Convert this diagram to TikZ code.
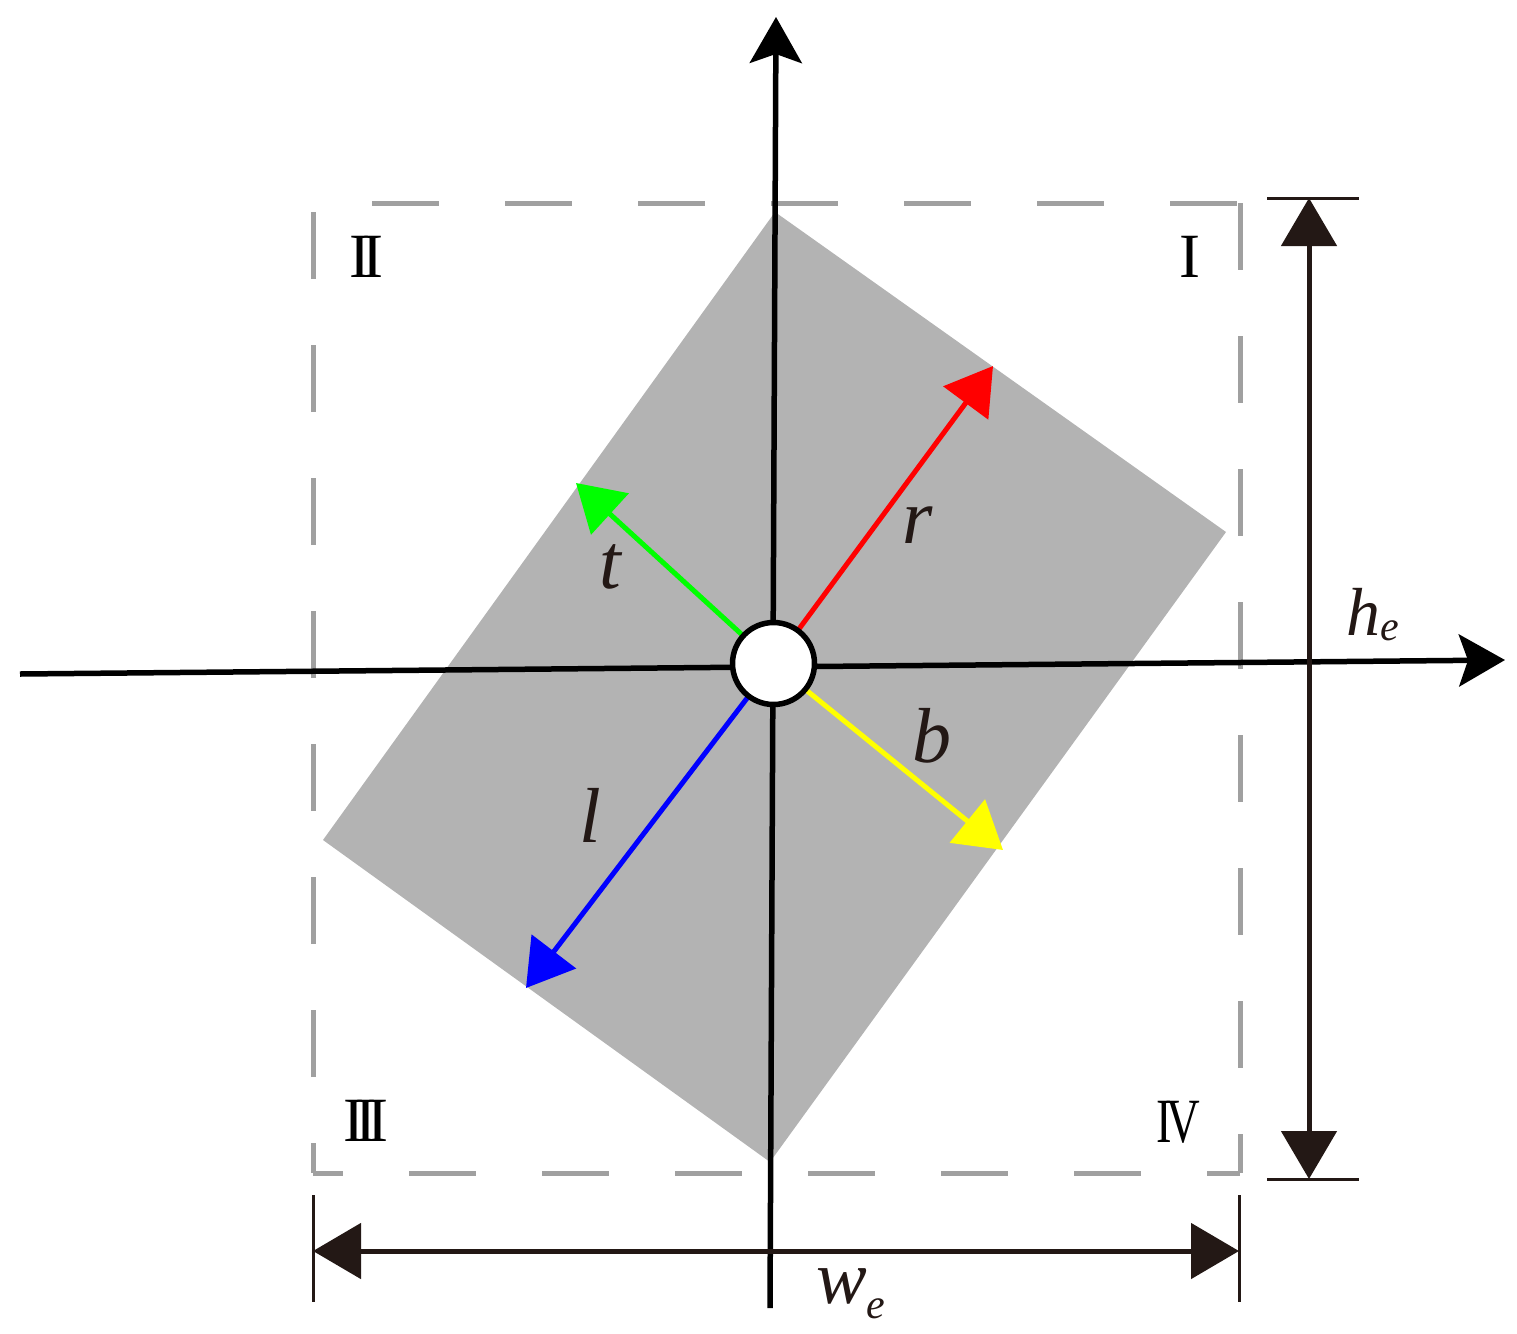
\documentclass[tikz,border=0pt]{standalone}
\usepackage{fontspec}
\setmainfont{Liberation Serif}
\usetikzlibrary{arrows.meta}
\definecolor{shapegray}{RGB}{179,179,179}
\definecolor{dashgray}{RGB}{160,160,160}
\definecolor{dimcol}{RGB}{35,24,21}
\definecolor{vred}{RGB}{255,0,0}
\definecolor{vgreen}{RGB}{0,255,0}
\definecolor{vyellow}{RGB}{255,255,0}
\definecolor{vblue}{RGB}{0,0,255}
\begin{document}
\begin{tikzpicture}[x=1pt,y=-1pt,
  axisline/.style={line width=5.5pt, black, -{Stealth[length=46pt,width=52pt,inset=9pt]}},
  vecline/.style={line width=5pt, -{Triangle[length=46pt,width=55pt]}},
  dimline/.style={dimcol, line width=5pt, {Triangle[length=48pt,width=55pt]}-{Triangle[length=48pt,width=55pt]}},
  tickline/.style={dimcol, line width=3pt},
  dashedge/.style={dashgray, line width=5pt, dash pattern=on 67pt off 66pt},
  lbl/.style={font=\fontsize{78}{78}\selectfont\itshape, text=dimcol, inner sep=0pt, anchor=base},
  quadlbl/.style={font=\fontsize{63}{63}\selectfont, text=black, inner sep=0pt, anchor=base}
]
\useasboundingbox (0,0) rectangle (1517,1333);
% rotated gray rectangle
\coordinate (sT) at (775,212);
\coordinate (sR) at (1226,532);
\coordinate (sB) at (770,1162);
\coordinate (sL) at (323,840);
\fill[shapegray] (sT) -- (sR) -- (sB) -- (sL) -- cycle;
% dashed rectangle
\coordinate (rTL) at (313,203);
\coordinate (rTR) at (1240,203);
\coordinate (rBR) at (1240,1173);
\coordinate (rBL) at (313,1173);
\draw[dashedge, dash phase=74pt] (rTL) -- (rTR);
\draw[dashedge, dash phase=0pt] (rTR) -- (rBR);
\draw[dashedge, dash phase=37pt] (rBL) -- (rBR);
\draw[dashedge, dash phase=37pt] (rBL) -- (rTL);
% axes
\coordinate (vS) at (770,1308);
\coordinate (vE) at (776,17);
\coordinate (hS) at (20,674);
\coordinate (hE) at (1505,660);
\draw[axisline] (vS) -- (vE);
\draw[axisline] (hS) -- (hE);
% vectors
\coordinate (O) at (773.5,663.5);
\coordinate (tipR) at (993,366);
\coordinate (tipT) at (576,483);
\coordinate (tipB) at (1003,850);
\coordinate (tipL) at (526,988);
\draw[vecline, vred] (O) -- (tipR);
\draw[vecline, vgreen] (O) -- (tipT);
\draw[vecline, vyellow] (O) -- (tipB);
\draw[vecline, vblue] (O) -- (tipL);
\node[circle, draw=black, fill=white, line width=5.5pt, minimum size=82pt, inner sep=0pt] (hub) at (O) {};
% height dimension
\coordinate (hT) at (1309,198);
\coordinate (hB) at (1309,1179);
\coordinate (hTa) at (1267,198);
\coordinate (hTb) at (1359,198);
\coordinate (hBa) at (1267,1179);
\coordinate (hBb) at (1359,1179);
\draw[tickline] (hTa) -- (hTb);
\draw[tickline] (hBa) -- (hBb);
\draw[dimline] (hT) -- (hB);
% width dimension
\coordinate (wL) at (313,1251);
\coordinate (wR) at (1239,1251);
\coordinate (wLa) at (313,1195);
\coordinate (wLb) at (313,1302);
\coordinate (wRa) at (1239,1195);
\coordinate (wRb) at (1239,1302);
\draw[tickline] (wLa) -- (wLb);
\draw[tickline] (wRa) -- (wRb);
\draw[dimline] (wL) -- (wR);
% vector labels
\node[lbl] (labt) at (610,588) {t};
\node[lbl] (labr) at (918,543) {r};
\node[lbl] (labb) at (932,762) {b};
\node[lbl] (labl) at (590,842) {l};
% dimension labels
\node[font=\fontsize{68}{68}\selectfont, text=dimcol, inner sep=0pt, anchor=base west] (labh) at (1346,635)
  {\textit{h}\raisebox{-5pt}{\fontsize{42}{42}\selectfont\textit{e}}};
\node[font=\fontsize{76}{76}\selectfont, text=dimcol, inner sep=0pt, anchor=base west] (labw) at (816,1303)
  {\textit{w}\raisebox{-15pt}{\fontsize{42}{42}\selectfont\textit{e}}};
% quadrant numerals
\node[quadlbl] (q2) at (366,277) {I\kern-8pt I};
\node[quadlbl] (q1) at (1190,277) {I};
\node[quadlbl] (q3) at (366,1141) {I\kern-9pt I\kern-9pt I};
\node[quadlbl] (q4) at (1178,1142) {\scalebox{0.74}[1]{I\kern-7pt V}};
\end{tikzpicture}
\end{document}
